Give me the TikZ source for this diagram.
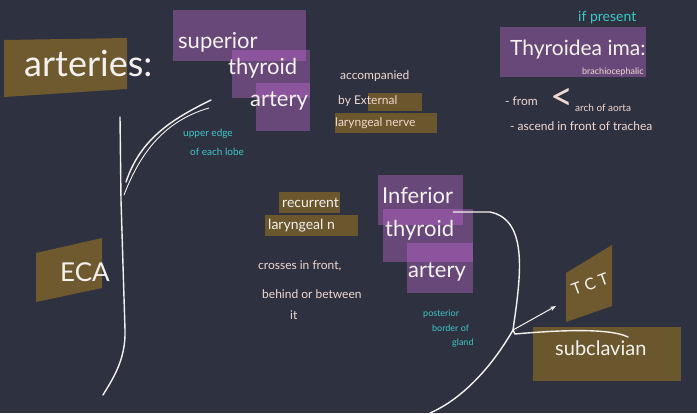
\documentclass[tikz,border=0pt]{standalone}
\usepackage{fontspec}
\setmainfont{Lato}
\usetikzlibrary{arrows.meta}
\definecolor{board}{HTML}{2E3140}
\definecolor{plum}{HTML}{6C4A7C}
\definecolor{plumlight}{HTML}{8E559F}
\definecolor{ochre}{HTML}{6E5A2E}
\definecolor{chalk}{HTML}{F4F1EE}
\definecolor{blush}{HTML}{F2D9D0}
\definecolor{teal}{HTML}{40C8C8}
\tikzset{
    title/.style={text=chalk,inner sep=0pt,anchor=west},
    note/.style={text=blush,inner sep=0pt,anchor=west,font=\fontsize{12}{12}\selectfont},
    hint/.style={text=teal,inner sep=0pt,anchor=west,font=\fontsize{10}{10}\selectfont},
    vessel/.style={draw=chalk,line width=1.4pt,line cap=round},
}
\newcommand\Marker[5]{%
    \fill[#1,opacity=0.95] (#2,#3) rectangle (#4,#5);
}
\begin{document}
\begin{tikzpicture}[x=1pt,y=-1pt]
    \fill[board] (0,0) rectangle (697,413);
    \useasboundingbox (0,0) rectangle (697,413);
    % highlights
    \fill[ochre] (4,40) -- (127,38) -- (127,89) -- (4,97) -- cycle;
    \Marker{plum}{173}{10}{306}{61}
    \Marker{plum}{232}{50}{310}{98}
    \Marker{plumlight}{232}{50}{306}{61}
    \Marker{plum}{256}{83}{310}{131}
    \Marker{plumlight}{256}{83}{310}{98}
    \Marker{ochre}{368}{93}{422}{111}
    \Marker{ochre}{335}{113}{437}{133}
    \Marker{plum}{500}{27}{646}{77}
    \Marker{ochre}{279}{192}{340}{213}
    \Marker{ochre}{265}{215}{358}{236}
    \Marker{plum}{378}{175}{463}{225}
    \Marker{plum}{383}{209}{473}{262}
    \Marker{plumlight}{383}{209}{463}{225}
    \Marker{plum}{407}{243}{473}{293}
    \Marker{plumlight}{407}{243}{473}{262}
    \Marker{ochre}{533}{327}{681}{381}
    \fill[ochre] (566,273) -- (612,245) -- (612,306) -- (566,322) -- cycle;
    \fill[ochre] (36,253) -- (102,238) -- (102,288) -- (36,302) -- cycle;
    % texts
    \node[title,font=\fontsize{36}{36}\selectfont] (arteries) at (24,64) {arteries:};
    \node[title,font=\fontsize{22}{22}\selectfont] (sup) at (178,42) {superior};
    \node[title,font=\fontsize{22}{22}\selectfont] (supthy) at (228,68) {thyroid};
    \node[title,font=\fontsize{22}{22}\selectfont] (supart) at (250,101) {artery};
    \node[hint] (upper) at (183,134) {upper edge};
    \node[hint] (lobe) at (190,152) {of each lobe};
    \node[note] (accomp) at (340,76) {accompanied};
    \node[note] (ext) at (338,101) {by External};
    \node[note] (lar) at (335,123) {laryngeal nerve};
    \node[hint,font=\fontsize{14}{14}\selectfont] (present) at (578,18) {if present};
    \node[title,font=\fontsize{21}{21}\selectfont] (ima) at (510,50) {Thyroidea ima:};
    \node[note,font=\fontsize{9}{9}\selectfont] (brachio) at (582,72) {brachiocephalic};
    \node[note] (from) at (505,101) {- from};
    \node[note,font=\fontsize{40}{40}\selectfont] (fork) at (550,99) {<};
    \node[note,font=\fontsize{10}{10}\selectfont] (arch) at (575,108) {arch of aorta};
    \node[note] (ascend) at (510,126) {- ascend in front of trachea};
    \node[title,font=\fontsize{14}{14}\selectfont] (rec) at (282,203) {recurrent};
    \node[title,font=\fontsize{14}{14}\selectfont] (recn) at (268,226) {laryngeal n};
    \node[note] (cross) at (258,266) {crosses in front,};
    \node[note] (behind) at (262,294) {behind or between};
    \node[note] (it) at (290,315) {it};
    \node[title,font=\fontsize{22}{22}\selectfont] (inf) at (382,196) {Inferior};
    \node[title,font=\fontsize{22}{22}\selectfont] (infthy) at (385,230) {thyroid};
    \node[title,font=\fontsize{22}{22}\selectfont] (infart) at (408,272) {artery};
    \node[hint,font=\fontsize{9}{9}\selectfont] (post) at (423,314) {posterior};
    \node[hint,font=\fontsize{9}{9}\selectfont] (border) at (432,328) {border of};
    \node[hint,font=\fontsize{9}{9}\selectfont] (gland) at (452,343) {gland};
    \node[title,font=\fontsize{16}{16}\selectfont,rotate=20,anchor=center] (tct) at (590,284) {T C T};
    \node[title,font=\fontsize{20}{20}\selectfont] (subcl) at (555,348) {subclavian};
    \node[title,font=\fontsize{26}{26}\selectfont] (eca) at (60,272) {ECA};
    % vessels
    \coordinate (Junction) at (513,330);
    \coordinate (EcaTop) at (120,117);
    \coordinate (EcaBend) at (126,182);
    \coordinate (EcaFoot) at (103,395);
    \coordinate (SupTip) at (211,100);
    \draw[vessel] (EcaTop) -- (121,200) -- (125,330) .. controls (126,360) and (112,380) .. (EcaFoot);
    \draw[vessel] (EcaBend) .. controls (140,140) and (170,120) .. (SupTip);
    \draw[vessel,line width=0.9pt] (124,195) .. controls (145,140) and (175,118) .. (209,108);
    \draw[vessel] (inf.east |- 0,212) -- (490,212) .. controls (530,220) and (520,280) .. (Junction);
    \draw[vessel] (Junction) .. controls (490,370) and (460,400) .. (430,413);
    \draw[vessel,line width=1pt,-{Stealth[length=6pt]}] (Junction) -- (556,306);
    \draw[vessel] (Junction) -- (515,334) .. controls (560,330) and (610,328) .. (628,337);
\end{tikzpicture}
\end{document}
